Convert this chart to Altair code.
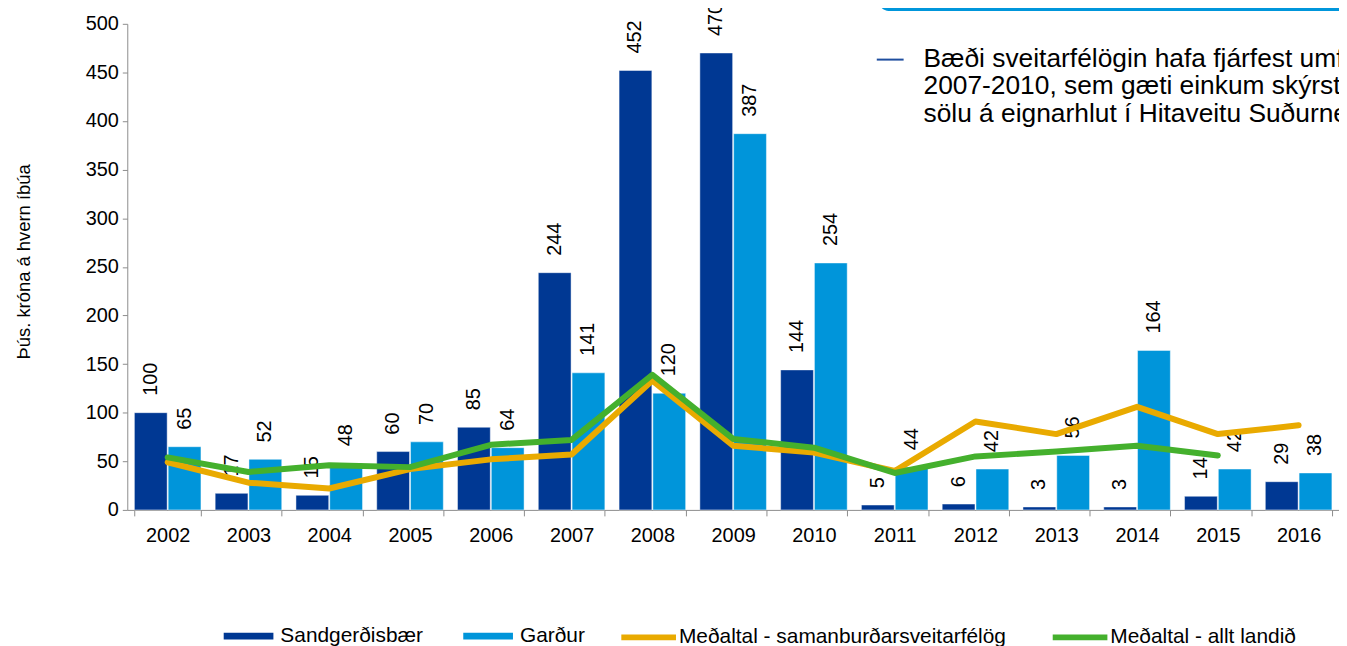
import altair as alt
import pandas as pd

years = ["2002", "2003", "2004", "2005", "2006", "2007", "2008", "2009",
         "2010", "2011", "2012", "2013", "2014", "2015", "2016"]
sandgerdi = [100, 17, 15, 60, 85, 244, 452, 470, 144, 5, 6, 3, 3, 14, 29]
gardur = [65, 52, 48, 70, 64, 141, 120, 387, 254, 44, 42, 56, 164, 42, 38]
avg_compare = [49, 28, 22, 42, 52, 57, 133, 66, 59, 40, 91, 78, 106, 78, 87]
avg_country = [54, 39, 46, 44, 67, 72, 139, 73, 64, 38, 55, 60, 66, 56, None]
bar_series = ["Sandgerðisbær", "Garður"]
line_series = ["Meðaltal - samanburðarsveitarfélög", "Meðaltal - allt landið"]
bar_colors = ["#003893", "#0095DA"]
line_colors = ["#E9AA00", "#44B02D"]
y_title = "Þús. króna á hvern íbúa"
note_lines = [
    "Bæði sveitarfélögin hafa fjárfest umfram",
    "2007-2010, sem gæti einkum skýrst af",
    "sölu á eignarhlut í Hitaveitu Suðurnesja",
]

FONT = "Liberation Sans"

bar_rows = []
for s, vals in zip(bar_series, [sandgerdi, gardur]):
    for y, v in zip(years, vals):
        bar_rows.append({"year": y, "series": s, "value": v})
bars_df = pd.DataFrame(bar_rows)

line_rows = []
for s, vals in zip(line_series, [avg_compare, avg_country]):
    for y, v in zip(years, vals):
        if v is not None:
            line_rows.append({"year": y, "series": s, "value": v})
lines_df = pd.DataFrame(line_rows)

x_enc = alt.X(
    "year:N", sort=years,
    scale=alt.Scale(paddingInner=0.176, paddingOuter=0.088),
    axis=alt.Axis(title=None, labelAngle=0, tickBand="extent", tickSize=6,
                  labelFontSize=20, labelPadding=10, labelColor="#000000",
                  domainColor="#8C8C8C", tickColor="#8C8C8C", labelFont=FONT),
)
y_enc = alt.Y(
    "value:Q",
    scale=alt.Scale(domain=[0, 500], nice=False),
    axis=alt.Axis(values=list(range(0, 501, 50)), grid=False, title=y_title,
                  tickSize=5, labelFontSize=20, labelPadding=4, labelColor="#000000",
                  domainColor="#8C8C8C", tickColor="#8C8C8C", labelFont=FONT,
                  titleFont=FONT, titleFontSize=18.5, titleFontWeight="normal",
                  titleColor="#000000", titleAngle=270, titleAlign="center",
                  titleBaseline="alphabetic", titleX=-98, titleY=239),
)
xoff = alt.XOffset("series:N", sort=bar_series, scale=alt.Scale(paddingInner=0.03, paddingOuter=0))

bars = alt.Chart(bars_df).mark_bar(stroke="#FFFFFF", strokeWidth=1, strokeOpacity=0.45).encode(
    x=x_enc, y=y_enc, xOffset=xoff,
    fill=alt.Fill("series:N", sort=bar_series,
                  scale=alt.Scale(domain=bar_series, range=bar_colors),
                  legend=alt.Legend(title=None, orient="none", direction="horizontal",
                                    legendX=97, legendY=591, columns=2,
                                    symbolType="M-1,-0.14H1V0.14H-1Z", symbolSize=2500,
                                    symbolStrokeWidth=0, labelFontSize=21, labelFont=FONT,
                                    labelColor="#000000", labelOffset=7, columnPadding=40,
                                    padding=0, labelLimit=0)),
)

labels = alt.Chart(bars_df).mark_text(
    angle=270, align="left", baseline="middle", dx=17, fontSize=20, font=FONT, color="#000000"
).encode(x=x_enc, y=y_enc, xOffset=xoff, text=alt.Text("value:Q"))

lines = alt.Chart(lines_df).mark_line(strokeWidth=6, strokeCap="round", strokeJoin="round").encode(
    x=x_enc, y=y_enc,
    stroke=alt.Stroke("series:N", sort=line_series,
                      scale=alt.Scale(domain=line_series, range=line_colors),
                      legend=alt.Legend(title=None, orient="none", direction="horizontal",
                                        legendX=494, legendY=586.5, columns=2,
                                        symbolType="stroke", symbolSize=3025,
                                        symbolStrokeWidth=6, labelFontSize=21, labelFont=FONT,
                                        labelColor="#000000", labelOffset=0, columnPadding=34,
                                        padding=0, labelLimit=0)),
)

note_df = pd.DataFrame({"text": ["\n".join(note_lines)]})
note_box = alt.Chart(note_df).mark_rect(color="#0096DB", cornerRadius=10).encode(
    x=alt.value(756), x2=alt.value(1400), y=alt.value(-40), y2=alt.value(-13)
)
note_dash = alt.Chart(note_df).mark_rule(color="#1F4E9F", strokeWidth=2).encode(
    x=alt.value(754), x2=alt.value(781), y=alt.value(36)
)
note_text = alt.Chart(note_df).mark_text(
    align="left", baseline="alphabetic", fontSize=26.5, font=FONT, color="#000000",
    lineBreak="\n", lineHeight=27.7
).encode(x=alt.value(801), y=alt.value(43), text="text:N")

chart = alt.layer(bars, labels, lines, note_box, note_dash, note_text).properties(
    width=1219, height=489,
    padding={"left": 120, "top": 14, "right": 0, "bottom": 135},
    autosize=alt.AutoSizeParams(type="none"),
).configure(font=FONT).configure_view(stroke=None)

chart.save("out.html", embed_options={"renderer": "svg", "actions": False})
